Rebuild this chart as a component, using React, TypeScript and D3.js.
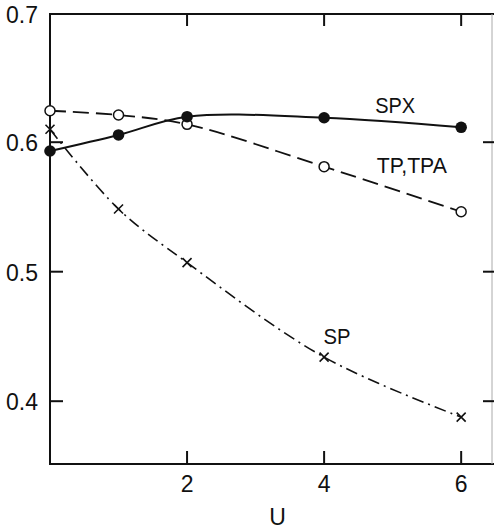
import React, { useRef, useEffect } from "react";
import * as d3 from "d3";

// U values (x) and the three curves
const U = [0, 1, 2, 4, 6];
const SPX = [0.5932, 0.6056, 0.6197, 0.6189, 0.6115];
const TP = [0.6243, 0.621, 0.6138, 0.5811, 0.5463];
const SP = [0.61, 0.5484, 0.507, 0.434, 0.3877];

const xTicks = [2, 4, 6];
const yTicks = [0.7, 0.6, 0.5, 0.4];

// curve labels, placed in data units
const labels = [
  { text: "SPX", u: 4.745, v: 0.6226 },
  { text: "TP,TPA", u: 4.77, v: 0.5762 },
  { text: "SP", u: 3.99, v: 0.4442 },
];

const W = 494;
const H = 532;

const App = () => {
  const svgRef = useRef<SVGSVGElement>(null);

  useEffect(() => {
    document.body.style.margin = "0";
    const svg = d3.select(svgRef.current);
    svg.selectAll("*").remove();

    const left = 50, right = 492, top = 14, bottom = 464;
    const x = d3.scaleLinear().domain([0, 6.45]).range([left, right]);
    const y = d3.scaleLinear().domain([0.3515, 0.699]).range([bottom, top]);
    const ink = "#111";
    const font = "'Liberation Sans', Arial, sans-serif";

    const g = svg.append("g");

    // frame
    g.append("line").attr("x1", left).attr("x2", left).attr("y1", top - 1).attr("y2", bottom + 1)
      .attr("stroke", ink).attr("stroke-width", 2);
    g.append("line").attr("x1", left - 1).attr("x2", W).attr("y1", top).attr("y2", top)
      .attr("stroke", ink).attr("stroke-width", 2);
    g.append("line").attr("x1", left - 1).attr("x2", W).attr("y1", bottom).attr("y2", bottom)
      .attr("stroke", ink).attr("stroke-width", 2);
    g.append("line").attr("x1", right).attr("x2", right).attr("y1", top).attr("y2", bottom)
      .attr("stroke", "#aaa").attr("stroke-width", 1);

    // x ticks, bottom (up) and top (down)
    xTicks.forEach(t => {
      g.append("line").attr("x1", x(t)).attr("x2", x(t)).attr("y1", bottom).attr("y2", bottom - 13)
        .attr("stroke", ink).attr("stroke-width", 2);
      g.append("line").attr("x1", x(t)).attr("x2", x(t)).attr("y1", top).attr("y2", top + 12)
        .attr("stroke", ink).attr("stroke-width", 2);
      g.append("text").attr("x", x(t)).attr("y", bottom + 28).attr("text-anchor", "middle")
        .attr("font-family", font).attr("font-size", 23).attr("fill", ink).text(String(t));
    });

    // y ticks, left (in) and right (in)
    yTicks.forEach(t => {
      if (t < 0.69) {
        g.append("line").attr("x1", left).attr("x2", left + 13).attr("y1", y(t)).attr("y2", y(t))
          .attr("stroke", ink).attr("stroke-width", 2);
        g.append("line").attr("x1", right - 9).attr("x2", W).attr("y1", y(t)).attr("y2", y(t))
          .attr("stroke", ink).attr("stroke-width", 2);
      }
      g.append("text").attr("x", 38).attr("y", Math.max(y(t), 14) + 9).attr("text-anchor", "end")
        .attr("font-family", font).attr("font-size", 23).attr("fill", ink).text(t.toFixed(1));
    });

    // axis title
    g.append("text").attr("x", x(3.32)).attr("y", 525).attr("text-anchor", "middle")
      .attr("font-family", font).attr("font-size", 23).attr("fill", ink).text("U");

    const line = d3.line<number>()
      .x((_, i) => x(U[i]))
      .y(d => y(d))
      .curve(d3.curveCatmullRom);

    g.append("path").attr("d", line(SP)).attr("fill", "none").attr("stroke", ink)
      .attr("stroke-width", 1.6).attr("stroke-dasharray", "12,5,2,5");
    g.append("path").attr("d", line(TP)).attr("fill", "none").attr("stroke", ink)
      .attr("stroke-width", 1.8).attr("stroke-dasharray", "16,7");
    g.append("path").attr("d", line(SPX)).attr("fill", "none").attr("stroke", ink)
      .attr("stroke-width", 2);

    // markers
    SP.forEach((v, i) => {
      const cx = x(U[i]), cy = y(v), s = 4.5;
      g.append("path").attr("d", `M${cx - s},${cy - s}L${cx + s},${cy + s}M${cx - s},${cy + s}L${cx + s},${cy - s}`)
        .attr("stroke", ink).attr("stroke-width", 1.6);
    });
    TP.forEach((v, i) => {
      g.append("circle").attr("cx", x(U[i])).attr("cy", y(v)).attr("r", 5)
        .attr("fill", "white").attr("stroke", ink).attr("stroke-width", 1.5);
    });
    SPX.forEach((v, i) => {
      g.append("circle").attr("cx", x(U[i])).attr("cy", y(v)).attr("r", 5.8).attr("fill", ink);
    });

    labels.forEach(l => {
      g.append("text").attr("x", x(l.u)).attr("y", y(l.v))
        .attr("font-family", font).attr("font-size", 22).attr("fill", ink)
        .attr("textLength", l.text.length === 6 ? 70 : l.text.length === 3 ? 40 : 27)
        .attr("lengthAdjust", "spacingAndGlyphs")
        .text(l.text);
    });
  }, []);

  return (
    <div style={{ width: W, height: H, background: "white" }}>
      <svg ref={svgRef} width={W} height={H} />
    </div>
  );
};

export default App;
